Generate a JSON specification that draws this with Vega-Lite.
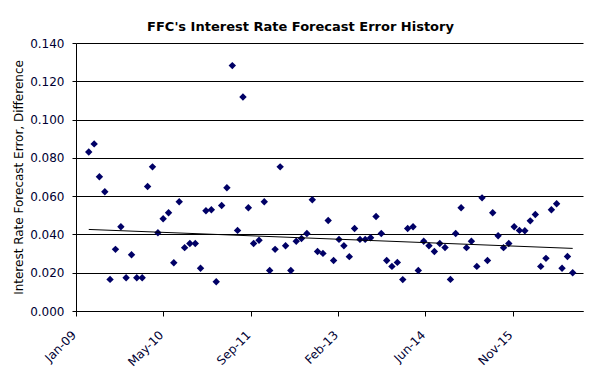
{
  "$schema": "https://vega.github.io/schema/vega-lite/v6.json",
  "width": 507,
  "height": 268,
  "autosize": {"type": "none"},
  "padding": {"left": 76, "top": 43, "right": 18, "bottom": 79},
  "background": "white",
  "title": {
    "text": "FFC's Interest Rate Forecast Error History",
    "font": "DejaVu Sans",
    "fontSize": 13,
    "fontWeight": "bold",
    "color": "#000000",
    "anchor": "middle",
    "dx": -29,
    "offset": 3
  },
  "config": {
    "view": {"stroke": null},
    "axis": {
      "labelFont": "DejaVu Sans",
      "labelFontSize": 12,
      "labelColor": "#000033",
      "titleFont": "DejaVu Sans",
      "titleFontSize": 12,
      "titleFontWeight": "normal",
      "titleColor": "#000000",
      "domainColor": "#000000",
      "tickColor": "#000000",
      "gridColor": "#000000",
      "gridOpacity": 1,
      "domainWidth": 1,
      "tickWidth": 1,
      "gridWidth": 1
    }
  },
  "datasets": {
    "errors": [
      {"d": "2009-03-15", "v": 0.0831}, {"d": "2009-04-15", "v": 0.0873}, {"d": "2009-05-15", "v": 0.0701}, {"d": "2009-06-15", "v": 0.0623},
      {"d": "2009-07-15", "v": 0.0165}, {"d": "2009-08-15", "v": 0.0322}, {"d": "2009-09-15", "v": 0.0440}, {"d": "2009-10-15", "v": 0.0174},
      {"d": "2009-11-15", "v": 0.0294}, {"d": "2009-12-15", "v": 0.0174},
      {"d": "2010-01-15", "v": 0.0174}, {"d": "2010-02-15", "v": 0.0650}, {"d": "2010-03-15", "v": 0.0753}, {"d": "2010-04-15", "v": 0.0409},
      {"d": "2010-05-15", "v": 0.0482}, {"d": "2010-06-15", "v": 0.0513}, {"d": "2010-07-15", "v": 0.0252}, {"d": "2010-08-15", "v": 0.0571},
      {"d": "2010-09-15", "v": 0.0331}, {"d": "2010-10-15", "v": 0.0353}, {"d": "2010-11-15", "v": 0.0353}, {"d": "2010-12-15", "v": 0.0223},
      {"d": "2011-01-15", "v": 0.0524}, {"d": "2011-02-15", "v": 0.0529}, {"d": "2011-03-15", "v": 0.0153}, {"d": "2011-04-15", "v": 0.0551},
      {"d": "2011-05-15", "v": 0.0644}, {"d": "2011-06-15", "v": 0.1282}, {"d": "2011-07-15", "v": 0.0421}, {"d": "2011-08-15", "v": 0.1118},
      {"d": "2011-09-15", "v": 0.0539}, {"d": "2011-10-15", "v": 0.0353}, {"d": "2011-11-15", "v": 0.0370}, {"d": "2011-12-15", "v": 0.0571},
      {"d": "2012-01-15", "v": 0.0212}, {"d": "2012-02-15", "v": 0.0322}, {"d": "2012-03-15", "v": 0.0753}, {"d": "2012-04-15", "v": 0.0341},
      {"d": "2012-05-15", "v": 0.0212}, {"d": "2012-06-15", "v": 0.0364}, {"d": "2012-07-15", "v": 0.0379}, {"d": "2012-08-15", "v": 0.0405},
      {"d": "2012-09-15", "v": 0.0581}, {"d": "2012-10-15", "v": 0.0311}, {"d": "2012-11-15", "v": 0.0301}, {"d": "2012-12-15", "v": 0.0473},
      {"d": "2013-01-15", "v": 0.0264}, {"d": "2013-02-15", "v": 0.0374}, {"d": "2013-03-15", "v": 0.0341}, {"d": "2013-04-15", "v": 0.0284},
      {"d": "2013-05-15", "v": 0.0431}, {"d": "2013-06-15", "v": 0.0374}, {"d": "2013-07-15", "v": 0.0374}, {"d": "2013-08-15", "v": 0.0383},
      {"d": "2013-09-15", "v": 0.0494}, {"d": "2013-10-15", "v": 0.0405}, {"d": "2013-11-15", "v": 0.0264}, {"d": "2013-12-15", "v": 0.0233},
      {"d": "2014-01-15", "v": 0.0254}, {"d": "2014-02-15", "v": 0.0164}, {"d": "2014-03-15", "v": 0.0431}, {"d": "2014-04-15", "v": 0.0440},
      {"d": "2014-05-15", "v": 0.0212}, {"d": "2014-06-15", "v": 0.0364}, {"d": "2014-07-15", "v": 0.0341}, {"d": "2014-08-15", "v": 0.0311},
      {"d": "2014-09-15", "v": 0.0353}, {"d": "2014-10-15", "v": 0.0332}, {"d": "2014-11-15", "v": 0.0165}, {"d": "2014-12-15", "v": 0.0405},
      {"d": "2015-01-15", "v": 0.0539}, {"d": "2015-02-15", "v": 0.0331}, {"d": "2015-03-15", "v": 0.0364}, {"d": "2015-04-15", "v": 0.0233},
      {"d": "2015-05-15", "v": 0.0591}, {"d": "2015-06-15", "v": 0.0264}, {"d": "2015-07-15", "v": 0.0513}, {"d": "2015-08-15", "v": 0.0393},
      {"d": "2015-09-15", "v": 0.0331}, {"d": "2015-10-15", "v": 0.0353}, {"d": "2015-11-15", "v": 0.0440}, {"d": "2015-12-15", "v": 0.0421},
      {"d": "2016-01-15", "v": 0.0419}, {"d": "2016-02-15", "v": 0.0471}, {"d": "2016-03-15", "v": 0.0504}, {"d": "2016-04-15", "v": 0.0233},
      {"d": "2016-05-15", "v": 0.0275}, {"d": "2016-06-15", "v": 0.0529}, {"d": "2016-07-15", "v": 0.0560}, {"d": "2016-08-15", "v": 0.0223},
      {"d": "2016-09-15", "v": 0.0285}, {"d": "2016-10-15", "v": 0.0200}
    ],
    "trend": [
      {"d": "2009-03-15", "v": 0.0426},
      {"d": "2016-10-15", "v": 0.0327}
    ]
  },
  "encoding": {
    "x": {
      "field": "d",
      "type": "temporal",
      "scale": {
        "type": "utc",
        "domain": [
          {"year": 2009, "month": 1, "date": 1, "utc": true},
          {"year": 2016, "month": 12, "date": 13, "utc": true}
        ]
      },
      "axis": {
        "title": null,
        "labelExpr": "utcFormat(datum.value, '%b-%y')",
        "values": [
          {"year": 2009, "month": 1, "date": 1, "utc": true},
          {"year": 2010, "month": 5, "date": 16, "utc": true},
          {"year": 2011, "month": 9, "date": 28, "utc": true},
          {"year": 2013, "month": 2, "date": 9, "utc": true},
          {"year": 2014, "month": 6, "date": 24, "utc": true},
          {"year": 2015, "month": 11, "date": 6, "utc": true}
        ],
        "labelAngle": -45,
        "labelAlign": "right",
        "labelBaseline": "top",
        "labelPadding": 13,
        "labelOffset": -6,
        "tickSize": 5,
        "grid": false,
        "labelFlush": false,
        "labelOverlap": false
      }
    },
    "y": {
      "field": "v",
      "type": "quantitative",
      "scale": {"domain": [0, 0.14], "nice": false},
      "axis": {
        "title": "Interest Rate Forecast Error, Difference",
        "format": ".3f",
        "values": [0, 0.02, 0.04, 0.06, 0.08, 0.1, 0.12, 0.14],
        "tickSize": 4,
        "labelPadding": 8,
        "titlePadding": 4,
        "grid": true
      }
    }
  },
  "layer": [
    {
      "data": {"name": "errors", "format": {"parse": {"d": "date"}}},
      "mark": {"type": "point", "shape": "diamond", "filled": true, "size": 55, "color": "#000066", "opacity": 1}
    },
    {
      "data": {"name": "trend", "format": {"parse": {"d": "date"}}},
      "mark": {"type": "line", "color": "#000000", "strokeWidth": 1}
    }
  ]
}
